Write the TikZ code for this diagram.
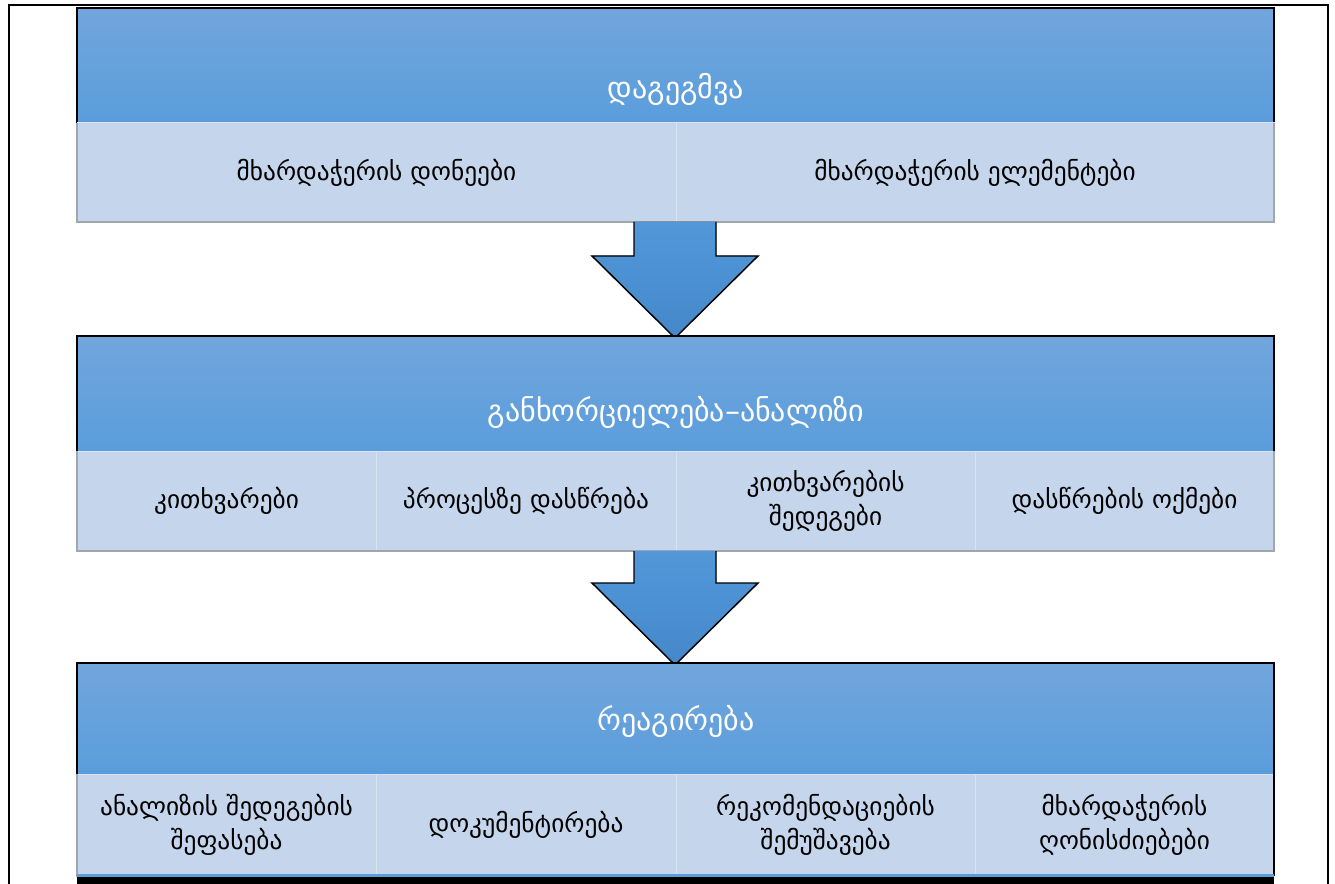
\documentclass[tikz,border=0pt]{standalone}
\usepackage{fontspec}
\setmainfont{DejaVu Sans}
\usetikzlibrary{positioning,calc}
\definecolor{headtop}{RGB}{113,166,220}
\definecolor{headbot}{RGB}{90,157,220}
\definecolor{cellfill}{RGB}{197,214,236}
\definecolor{cellline}{RGB}{216,228,243}
\definecolor{celledge}{RGB}{160,166,175}
\definecolor{arrtop}{RGB}{82,152,217}
\definecolor{arrbot}{RGB}{68,136,202}
\tikzset{
  headbox/.style={top color=headtop, bottom color=headbot},
  headtext/.style={text=white, font=\fontsize{22.5}{26}\selectfont},
  cellbox/.style={fill=cellfill, draw=cellline, line width=0.75pt},
  celltext/.style={font=\fontsize{19}{25.5}\selectfont, align=center},
  downarrow/.style={top color=arrtop, bottom color=arrbot},
}
\begin{document}
\begin{tikzpicture}[x=0.75pt, y=-0.75pt]
    \useasboundingbox (0,0) rectangle (1335,884);
    % outer frame
    \draw[line width=1.6pt] (9,890) -- (9,5) -- (1328,5) -- (1328,890);

    % block 1
    \fill[headbox] (77,8) rectangle (1274,123);
    \draw[line width=0.9pt] (77,123) -- (77,8) -- (1274,8) -- (1274,123);
    \node[headtext] (plan) at (676,89) {დაგეგმვა};
    \draw[cellbox] (77,123) rectangle (676,222) node[midway, celltext] (planlevels) {მხარდაჭერის დონეები};
    \draw[cellbox] (676,123) rectangle (1274,222) node[midway, celltext] (planparts) {მხარდაჭერის ელემენტები};
    \draw[celledge, line width=0.9pt] (77,123) -- (77,222) -- (1274,222) -- (1274,123);

    % arrow 1
    \coordinate (arrowatop) at (675,222);
    \coordinate (arrowatip) at (675,338);
    \fill[downarrow] ($(arrowatop)+(-41,0)$) -- ($(arrowatop)+(41,0)$) -- ($(arrowatop)+(41,34)$) -- ($(arrowatop)+(83,34)$) -- (arrowatip) -- ($(arrowatop)+(-83,34)$) -- ($(arrowatop)+(-41,34)$) -- cycle;
    \draw[line width=1.1pt, line join=miter] ($(arrowatop)+(-41,0)$) -- ($(arrowatop)+(-41,34)$) -- ($(arrowatop)+(-83,34)$) -- (arrowatip) -- ($(arrowatop)+(83,34)$) -- ($(arrowatop)+(41,34)$) -- ($(arrowatop)+(41,0)$);

    % block 2
    \fill[headbox] (77,336) rectangle (1274,451);
    \draw[line width=0.9pt] (77,451) -- (77,336) -- (1274,336) -- (1274,451);
    \node[headtext] (implement) at (676,412) {განხორციელება–ანალიზი};
    \draw[cellbox] (77,451) rectangle (376,551) node[midway, celltext] (quest) {კითხვარები};
    \draw[cellbox] (376,451) rectangle (676,551) node[midway, celltext] (attend) {პროცესზე დასწრება};
    \draw[cellbox] (676,451) rectangle (975,551) node[midway, celltext] (questres) {კითხვარების\\შედეგები};
    \draw[cellbox] (975,451) rectangle (1274,551) node[midway, celltext] (attendrep) {დასწრების ოქმები};
    \draw[celledge, line width=0.9pt] (77,451) -- (77,551) -- (1274,551) -- (1274,451);

    % arrow 2
    \coordinate (arrowbtop) at (675,551);
    \coordinate (arrowbtip) at (675,665);
    \fill[downarrow] ($(arrowbtop)+(-41,0)$) -- ($(arrowbtop)+(41,0)$) -- ($(arrowbtop)+(41,32)$) -- ($(arrowbtop)+(83,32)$) -- (arrowbtip) -- ($(arrowbtop)+(-83,32)$) -- ($(arrowbtop)+(-41,32)$) -- cycle;
    \draw[line width=1.1pt, line join=miter] ($(arrowbtop)+(-41,0)$) -- ($(arrowbtop)+(-41,32)$) -- ($(arrowbtop)+(-83,32)$) -- (arrowbtip) -- ($(arrowbtop)+(83,32)$) -- ($(arrowbtop)+(41,32)$) -- ($(arrowbtop)+(41,0)$);

    % block 3
    \fill[headbox] (77,663) rectangle (1274,774);
    \draw[line width=0.9pt] (77,774) -- (77,663) -- (1274,663) -- (1274,774);
    \node[headtext] (react) at (676,721) {რეაგირება};
    \draw[cellbox] (77,774) rectangle (376,876) node[midway, celltext] (assess) {ანალიზის შედეგების\\შეფასება};
    \draw[cellbox] (376,774) rectangle (676,876) node[midway, celltext] (docs) {დოკუმენტირება};
    \draw[cellbox] (676,774) rectangle (975,876) node[midway, celltext] (recomm) {რეკომენდაციების\\შემუშავება};
    \draw[cellbox] (975,774) rectangle (1274,876) node[midway, celltext] (measures) {მხარდაჭერის\\ღონისძიებები};
    \draw[celledge, line width=0.9pt] (77,774) -- (77,876) -- (1274,876);
    \draw[line width=0.9pt] (1274,774) -- (1274,876);
    \fill[headbot] (77,874) rectangle (1274,877);
    \fill[black] (77,877) rectangle (1274,886);
\end{tikzpicture}
\end{document}
